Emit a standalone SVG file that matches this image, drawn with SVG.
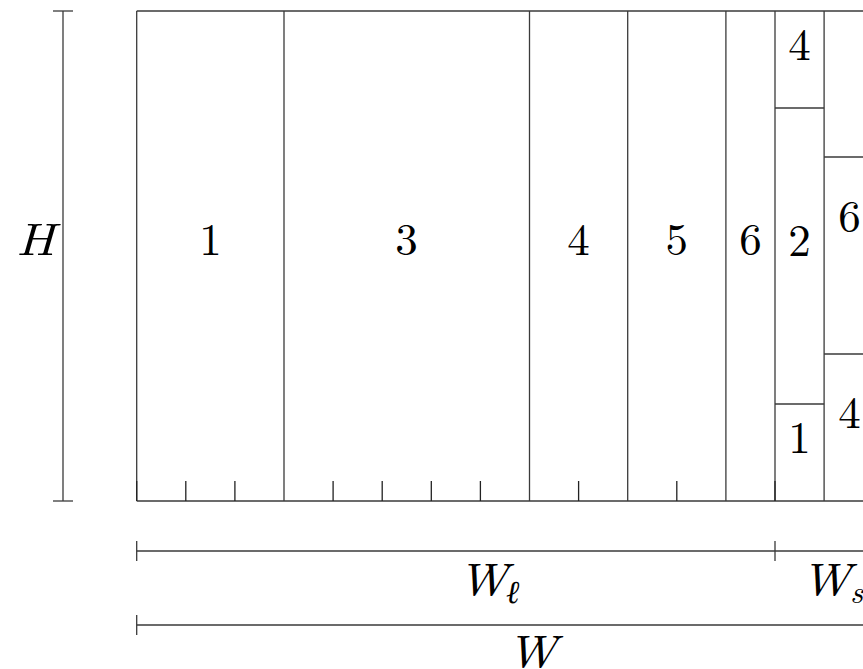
<svg xmlns="http://www.w3.org/2000/svg" width="863" height="669" viewBox="0 0 863 669">
<style>
  .ln{stroke:#3a3a3a;stroke-width:1.3;fill:none}
  .tk{stroke:#222;stroke-width:1.3;fill:none}
  .num{font-family:"Latin Modern Roman","Liberation Serif","DejaVu Serif",serif;font-size:45px;fill:#000;text-anchor:middle}
  .var{font-family:"Latin Modern Roman","Liberation Serif","DejaVu Serif",serif;font-style:italic;font-size:46px;fill:#000}
  .sub{font-family:"Latin Modern Roman","Liberation Serif","DejaVu Serif",serif;font-style:italic;font-size:32px;fill:#000}
</style>
<rect width="863" height="669" fill="#fff"/>
<g id="frame">
  <line class="ln" x1="136.7" y1="11" x2="863" y2="11"/>
  <line class="ln" x1="136.7" y1="501" x2="863" y2="501"/>
  <line class="ln" x1="136.7" y1="11" x2="136.7" y2="501"/>
</g>
<g id="col-1"><line class="ln" x1="284" y1="11" x2="284" y2="501"/><text class="num" x="210.5" y="255">1</text></g>
<g id="col-3"><line class="ln" x1="529.5" y1="11" x2="529.5" y2="501"/><text class="num" x="406.5" y="255">3</text></g>
<g id="col-4"><line class="ln" x1="627.7" y1="11" x2="627.7" y2="501"/><text class="num" x="578.6" y="255">4</text></g>
<g id="col-5"><line class="ln" x1="725.9" y1="11" x2="725.9" y2="501"/><text class="num" x="676.8" y="255">5</text></g>
<g id="col-6"><line class="ln" x1="775" y1="11" x2="775" y2="501"/><text class="num" x="750.5" y="255">6</text></g>
<g id="stack-a">
  <line class="ln" x1="824.1" y1="11" x2="824.1" y2="501"/>
  <line class="ln" x1="775" y1="108" x2="824.1" y2="108"/>
  <line class="ln" x1="775" y1="404" x2="824.1" y2="404"/>
  <text class="num" x="799.5" y="60">4</text>
  <text class="num" x="799.5" y="256">2</text>
  <text class="num" x="799.5" y="453">1</text>
</g>
<g id="stack-b">
  <line class="ln" x1="824.1" y1="157" x2="863" y2="157"/>
  <line class="ln" x1="824.1" y1="354" x2="863" y2="354"/>
  <text class="num" x="849.5" y="232">6</text>
  <text class="num" x="849.5" y="428">4</text>
</g>
<g id="ticks">
  <path class="tk" d="M136.7 481V501M185.8 481V501M234.9 481V501M333.1 481V501M382.2 481V501M431.3 481V501M480.4 481V501M578.6 481V501M676.8 481V501M775 481V501"/>
</g>
<g id="dimensions">
  <line class="ln" x1="63" y1="11" x2="63" y2="501"/>
  <line class="ln" x1="53" y1="11" x2="73" y2="11"/>
  <line class="ln" x1="53" y1="501" x2="73" y2="501"/>
  <line class="ln" x1="136.7" y1="551" x2="863" y2="551"/>
  <line class="ln" x1="136.7" y1="541" x2="136.7" y2="561"/>
  <line class="ln" x1="775" y1="541" x2="775" y2="561"/>
  <line class="ln" x1="136.7" y1="625" x2="863" y2="625"/>
  <line class="ln" x1="136.7" y1="615" x2="136.7" y2="635"/>
</g>
<g id="labels">
  <text class="var" x="16" y="255" textLength="39" lengthAdjust="spacingAndGlyphs">H</text>
  <text class="var" x="458" y="595" textLength="50" lengthAdjust="spacingAndGlyphs">W</text>
  <text class="sub" x="506" y="603">ℓ</text>
  <text class="var" x="801" y="595" textLength="50" lengthAdjust="spacingAndGlyphs">W</text>
  <text class="sub" x="850" y="603">s</text>
  <text class="var" x="507" y="667" textLength="50" lengthAdjust="spacingAndGlyphs">W</text>
</g>
</svg>
